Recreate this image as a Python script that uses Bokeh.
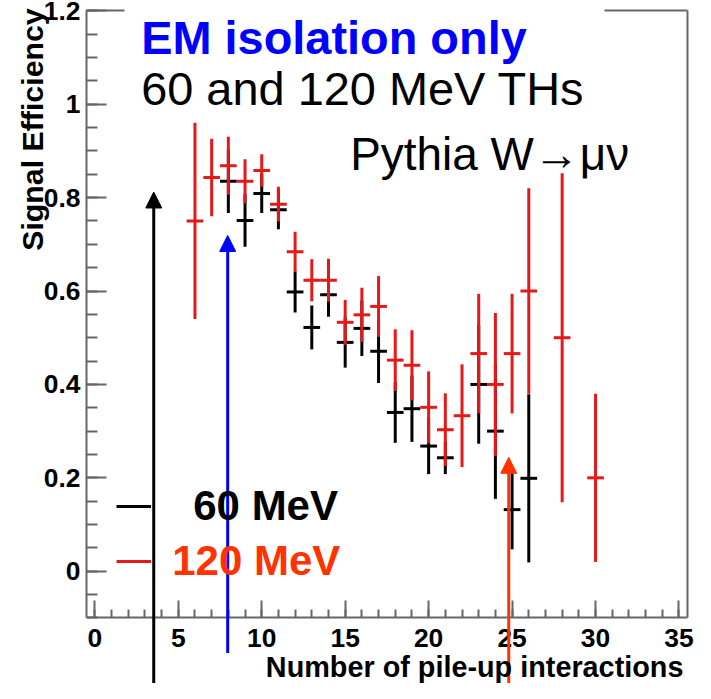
import numpy as np
from bokeh.plotting import figure
from bokeh.models import (Range1d, FixedTicker, CustomJSTickFormatter, Label, Legend,
                          LegendItem, Arrow, NormalHead, LinearAxis, ColumnDataSource)
from bokeh.embed import file_html
from bokeh.resources import INLINE

# ---------------- data ----------------
pileup_120 = [6, 7, 8, 9, 10, 11, 12, 13, 14, 15, 16, 17, 18, 19, 20, 21, 22, 23, 24, 25, 26, 28, 30]
eff_120 = [0.750, 0.843, 0.868, 0.835, 0.858, 0.786, 0.684, 0.623, 0.623, 0.533, 0.549, 0.567,
           0.452, 0.441, 0.351, 0.303, 0.333, 0.466, 0.400, 0.466, 0.600, 0.500, 0.200]
err_120 = [0.210, 0.083, 0.062, 0.047, 0.035, 0.037, 0.043, 0.045, 0.046, 0.048, 0.058, 0.065,
           0.066, 0.075, 0.077, 0.078, 0.110, 0.128, 0.153, 0.128, 0.220, 0.352, 0.180]

pileup_60 = [8, 9, 10, 11, 12, 13, 14, 15, 16, 17, 18, 19, 20, 21, 23, 24, 25, 26]
eff_60 = [0.835, 0.751, 0.809, 0.774, 0.598, 0.522, 0.592, 0.490, 0.520, 0.471, 0.340, 0.348,
          0.268, 0.243, 0.400, 0.300, 0.132, 0.199]
err_60 = [0.068, 0.056, 0.042, 0.042, 0.044, 0.047, 0.047, 0.054, 0.059, 0.068, 0.065, 0.071,
          0.060, 0.035, 0.127, 0.145, 0.085, 0.180]

x_ticks = [0, 5, 10, 15, 20, 25, 30, 35]
y_ticks = [0, 0.2, 0.4, 0.6, 0.8, 1.0, 1.2]

series_labels = ["60 MeV", "120 MeV"]
x_title = "Number of pile-up interactions"
y_title = "Signal Efficiency"
title_1 = "EM isolation only"
title_2 = "60 and 120 MeV THs"
title_3 = "Pythia W\u2192\u03bc\u03bd"

# arrows drawn on the slide (x position, base, tip) in data units
arrow_x = [3.53, 7.96, 24.8]
arrow_base = [-0.25, -0.175, -0.25]
arrow_tip = [0.812, 0.719, 0.244]
arrow_colors = ["#000000", "#0000ff", "#ff3300"]

# ---------------- layout ----------------
FIG_W, FIG_H = 695, 683
K = 0.977                     # canvas pixels per reference pixel
DESC = 0.212                  # font descent / size (Liberation Sans)


def R(v):
    """reference-picture pixels -> canvas pixels"""
    return v * K


BOX_L, BOX_R, BOX_T, BOX_B = R(88), R(703), R(10.5), R(632)   # plot box on the canvas
X_LO, X_HI, Y_LO, Y_HI = -0.5, 35.5, -0.1, 1.2                 # plot box in data
SX = (BOX_R - BOX_L) / (X_HI - X_LO)
SY = (BOX_B - BOX_T) / (Y_HI - Y_LO)


def px2x(px):
    return X_LO + (px - BOX_L) / SX


def px2y(py):
    return Y_LO + (BOX_B - py) / SY


def fs(v):
    return "%.1fpx" % (v * K)


FONT = "Liberation Sans"
GREY = "#666666"
RED = "#e61919"

p = figure(width=FIG_W, height=FIG_H, output_backend="svg", toolbar_location=None,
           x_range=Range1d(px2x(0), px2x(FIG_W)),
           y_range=Range1d(px2y(FIG_H), px2y(0)),
           min_border=0, title=None)
p.background_fill_color = "white"
p.border_fill_color = "white"
p.grid.visible = False
p.outline_line_color = None

xa = p.xaxis[0]
ya = p.yaxis[0]
xa.fixed_location = Y_LO
xa.bounds = (X_LO, X_HI)
ya.fixed_location = X_LO
ya.bounds = (Y_LO, Y_HI)
xa.ticker = FixedTicker(ticks=x_ticks, minor_ticks=list(np.arange(0, 36, 1.0)))
ya.ticker = FixedTicker(ticks=y_ticks, minor_ticks=[round(v, 2) for v in np.arange(-0.1, 1.201, 0.05)])
ya.formatter = CustomJSTickFormatter(code="return String(Math.round(tick*10)/10)")

for ax in (xa, ya):
    ax.axis_line_color = GREY
    ax.axis_line_width = 2
    ax.major_tick_line_color = GREY
    ax.major_tick_line_width = 2
    ax.minor_tick_line_color = GREY
    ax.minor_tick_line_width = 2
    ax.major_tick_out = 0
    ax.minor_tick_out = 0
    ax.major_label_text_font = FONT
    ax.major_label_text_font_style = "bold"
    ax.major_label_text_font_size = fs(27)
    ax.major_label_text_color = "black"
xa.major_tick_in = round(R(17))
xa.minor_tick_in = round(R(8))
xa.major_label_standoff = round(R(11))
ya.major_tick_in = round(R(20))
ya.minor_tick_in = round(R(11))
ya.major_label_standoff = round(R(6))

# remaining sides of the plot box: tick-less axes (top one interrupted by the slide text box)
for side, loc, bnds in [("above", Y_HI, (X_LO, px2x(R(127)))),
                        ("above", Y_HI, (px2x(R(618)), X_HI)),
                        ("right", X_HI, (Y_LO, Y_HI))]:
    ax = LinearAxis(fixed_location=loc, bounds=bnds, ticker=FixedTicker(ticks=[]),
                    axis_line_color=GREY, axis_line_width=2,
                    major_tick_line_color=None, minor_tick_line_color=None,
                    major_label_text_font_size="0px")
    p.add_layout(ax, side)


def error_bars(xs, ys, es, color):
    x = np.asarray(xs, float)
    y = np.asarray(ys, float)
    e = np.asarray(es, float)
    src = ColumnDataSource(dict(x=x, y=y, lo=y - e, hi=y + e, x0=x - 0.5, x1=x + 0.5))
    v = p.segment(x0="x", y0="lo", x1="x", y1="hi", source=src, line_color=color, line_width=3)
    p.segment(x0="x0", y0="y", x1="x1", y1="y", source=src, line_color=color, line_width=3)
    return v


r60 = error_bars(pileup_60, eff_60, err_60, "black")
r120 = error_bars(pileup_120, eff_120, err_120, RED)

# legends (one per entry so that each label has its own colour)
common = dict(glyph_width=round(R(36)), label_text_font=FONT, label_text_font_style="bold",
              label_text_font_size=fs(43), background_fill_alpha=0, border_line_color=None,
              padding=0, margin=0, spacing=0)
p.add_layout(Legend(items=[LegendItem(label=series_labels[0], renderers=[r60])],
                    location=(R(119), FIG_H - R(519) - 23), label_standoff=round(R(43)),
                    label_text_color="black", **common))
p.add_layout(Legend(items=[LegendItem(label=series_labels[1], renderers=[r120])],
                    location=(R(119), FIG_H - R(575) - 23), label_standoff=round(R(22)),
                    label_text_color="#ff3300", **common))

# arrows
for xv, yb, yt, c in zip(arrow_x, arrow_base, arrow_tip, arrow_colors):
    p.add_layout(Arrow(end=NormalHead(size=16, fill_color=c, line_color=c, line_width=1),
                       x_start=xv, y_start=yb, x_end=xv, y_end=yt,
                       line_color=c, line_width=3))


def text(ref_x, ref_baseline, size, txt, **kw):
    """label whose alphabetic baseline sits at ref_baseline (reference pixels)"""
    py = R(ref_baseline) + DESC * size * K
    p.add_layout(Label(x=px2x(R(ref_x)), y=px2y(py), text=txt, text_font=FONT,
                       text_font_size=fs(size), **kw))


# slide texts
text(144, 55, 48, title_1, text_font_style="bold", text_color="#0000ff")
text(144, 107, 48, title_2, text_color="black")
text(358, 174, 47, title_3, text_color="black")

# axis titles
text(699, 692, 29.5, x_title, text_align="right", text_font_style="bold", text_color="black")
ysize = 31
p.add_layout(Label(x=px2x(R(43) + DESC * ysize * K), y=px2y(R(8)), text=y_title,
                   angle=np.pi / 2, text_align="right", text_font=FONT,
                   text_font_size=fs(ysize), text_font_style="bold", text_color="black"))

open("out.html", "w").write(file_html(p, INLINE))
